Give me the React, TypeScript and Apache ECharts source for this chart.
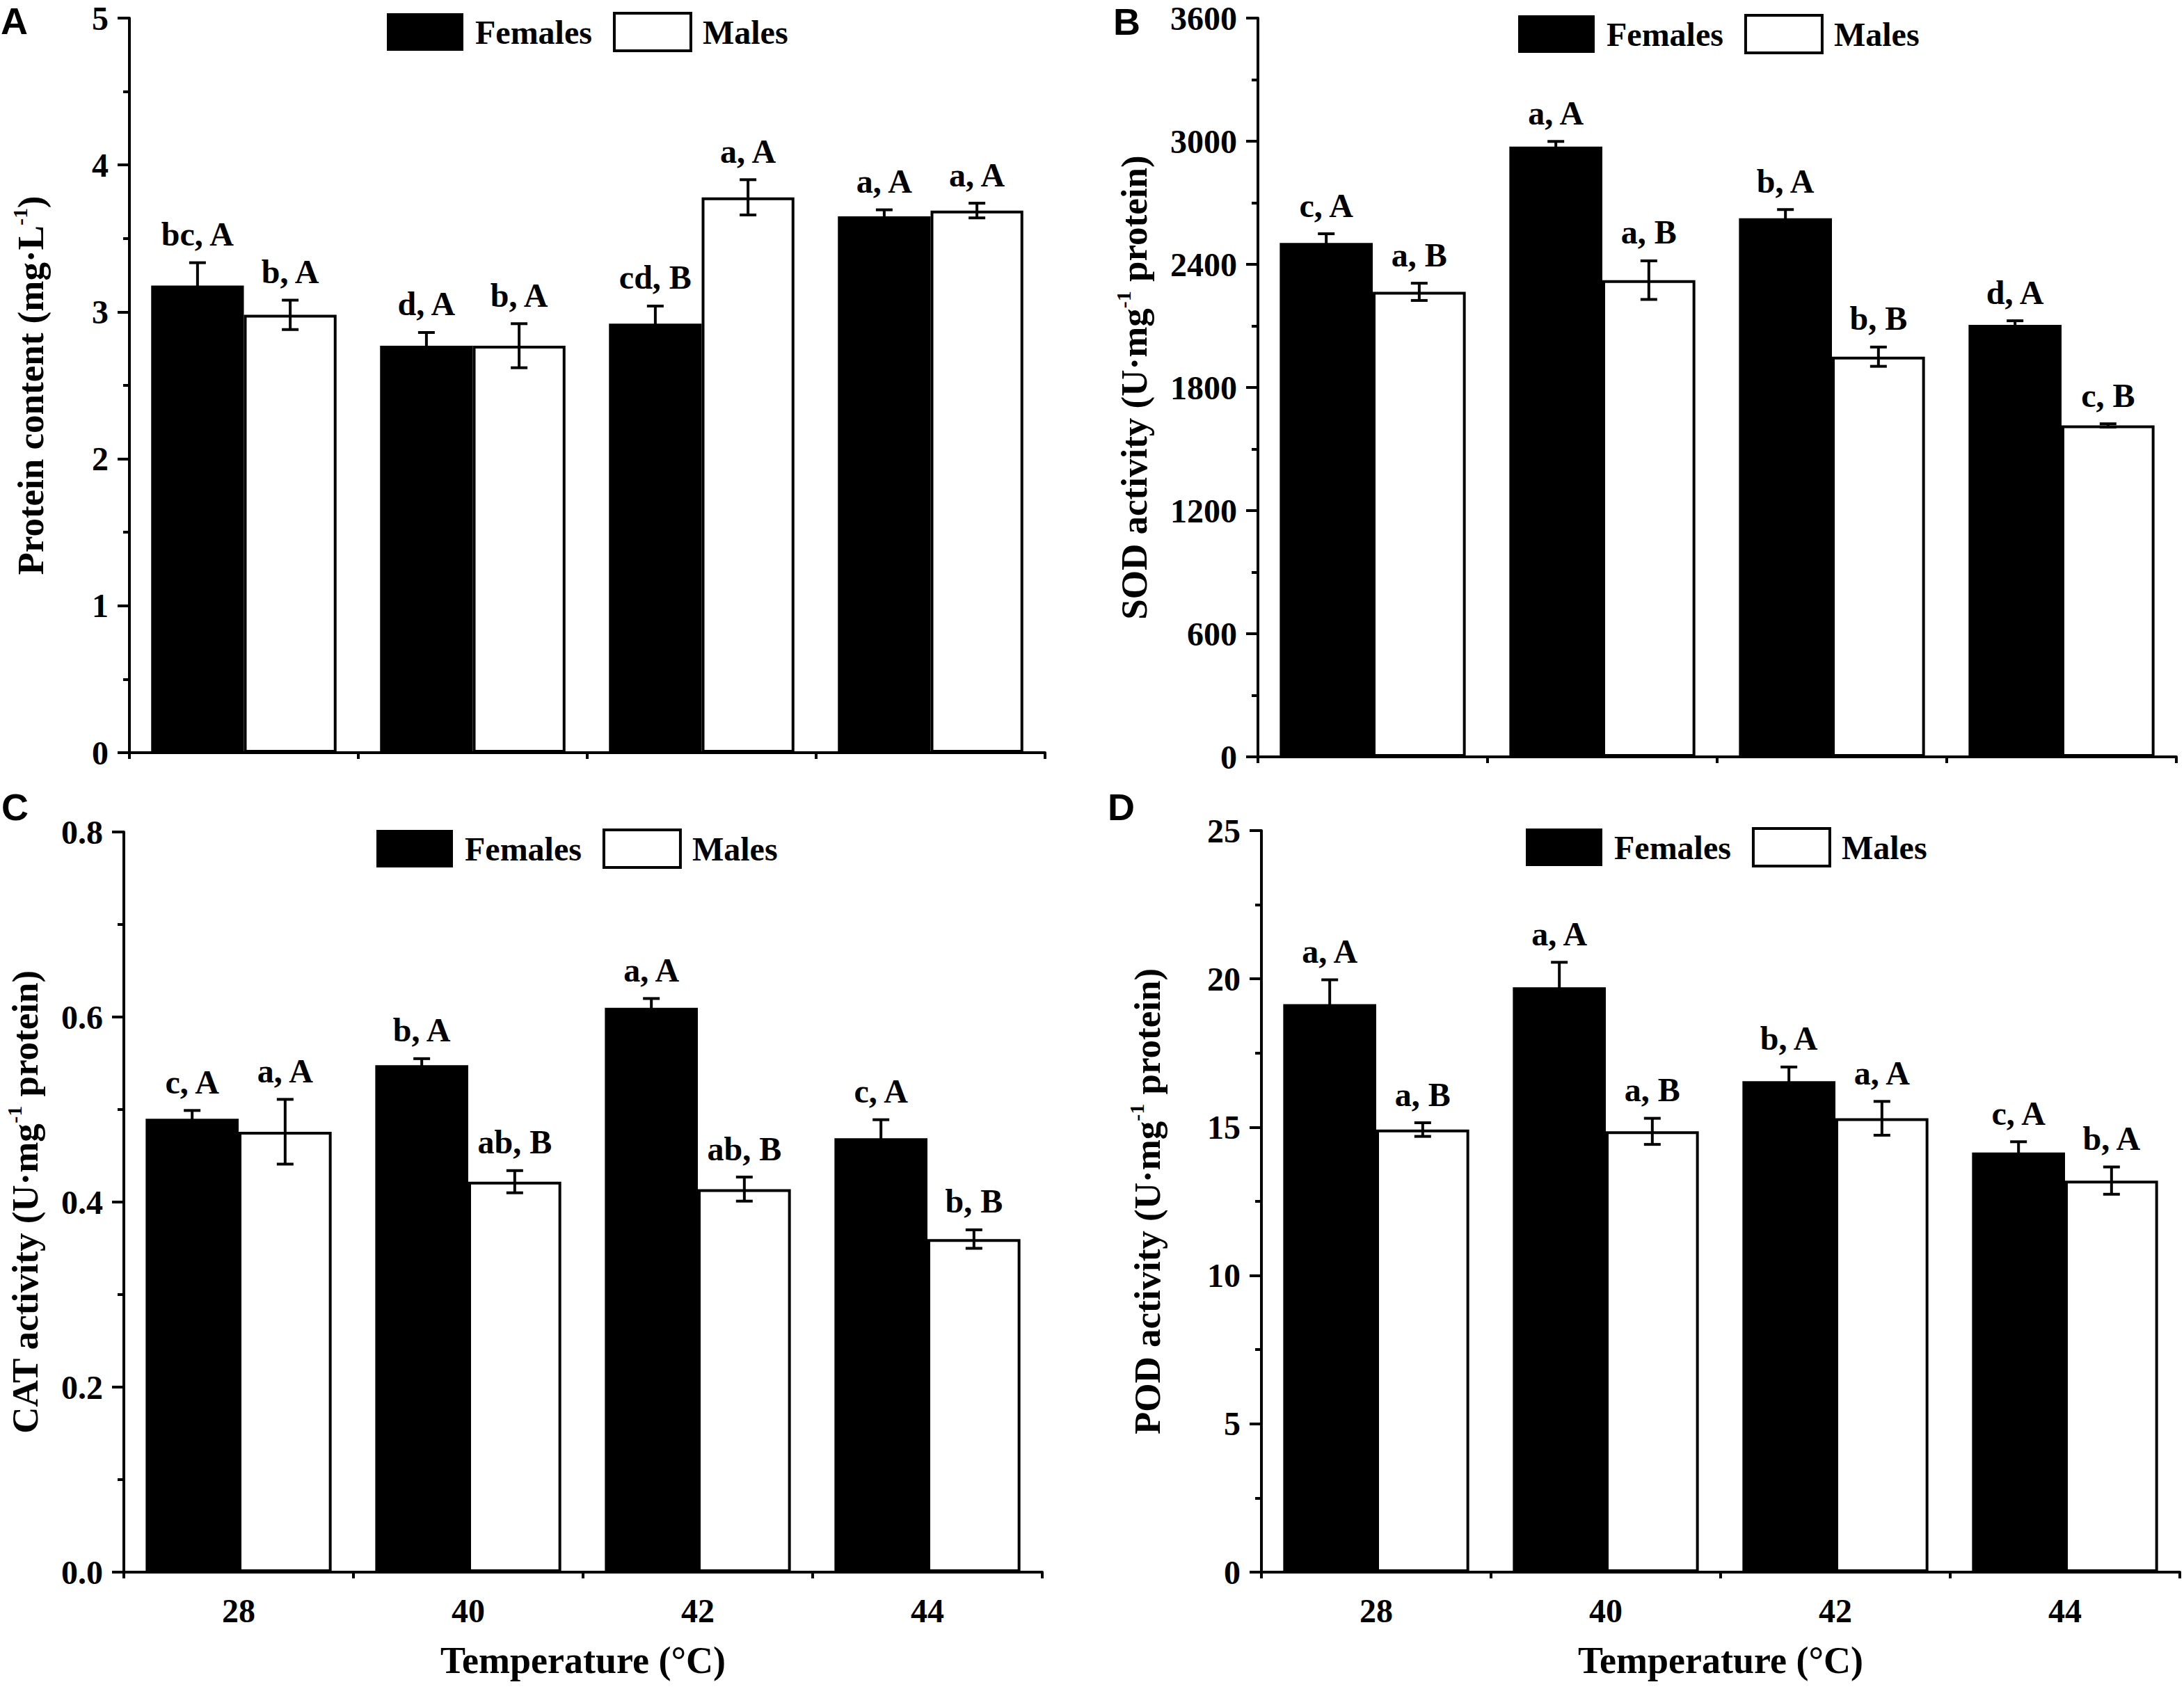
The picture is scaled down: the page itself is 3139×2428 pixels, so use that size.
import React, { useEffect, useRef } from 'react';
import * as echarts from 'echarts';

const FONT = 'Liberation Serif';

const temperatures = ['28', '40', '42', '44'];
const legendNames = ['Females', 'Males'];

// Panel A: protein content
const proteinFemales = [3.18, 2.77, 2.92, 3.65];
const proteinFemalesErr = [0.155, 0.09, 0.12, 0.045];
const proteinMales = [2.98, 2.77, 3.78, 3.69];
const proteinMalesErr = [0.1, 0.15, 0.12, 0.05];
const proteinFemalesLabels = ['bc, A', 'd, A', 'cd, B', 'a, A'];
const proteinMalesLabels = ['b, A', 'b, A', 'a, A', 'a, A'];

// Panel B: SOD activity
const sodFemales = [2504, 2974, 2625, 2105];
const sodFemalesErr = [45, 25, 42, 20];
const sodMales = [2266, 2323, 1950, 1615];
const sodMalesErr = [42, 94, 47, 8];
const sodFemalesLabels = ['c, A', 'a, A', 'b, A', 'd, A'];
const sodMalesLabels = ['a, B', 'a, B', 'b, B', 'c, B'];

// Panel C: CAT activity
const catFemales = [0.49, 0.548, 0.61, 0.469];
const catFemalesErr = [0.009, 0.007, 0.01, 0.02];
const catMales = [0.476, 0.422, 0.414, 0.36];
const catMalesErr = [0.035, 0.012, 0.013, 0.01];
const catFemalesLabels = ['c, A', 'b, A', 'a, A', 'c, A'];
const catMalesLabels = ['a, A', 'ab, B', 'ab, B', 'b, B'];

// Panel D: POD activity
const podFemales = [19.15, 19.72, 16.55, 14.15];
const podFemalesErr = [0.82, 0.84, 0.48, 0.36];
const podMales = [14.92, 14.86, 15.3, 13.2];
const podMalesErr = [0.23, 0.44, 0.57, 0.46];
const podFemalesLabels = ['a, A', 'a, A', 'b, A', 'c, A'];
const podMalesLabels = ['a, B', 'a, B', 'a, A', 'b, A'];

const panels = [
  {
    letter: 'A', letterPos: [1, 3],
    grid: { left: 186, top: 26, width: 1316, height: 1056 },
    yMax: 5, yInterval: 1, decimals: 0,
    yTitle: '{a|Protein content (mg·L}{s|-1}{a|)}', nameGap: 111,
    showX: false, legendPos: [556, 17],
    f: proteinFemales, fe: proteinFemalesErr, fl: proteinFemalesLabels,
    m: proteinMales, me: proteinMalesErr, ml: proteinMalesLabels,
  },
  {
    letter: 'B', letterPos: [1600, 4],
    grid: { left: 1808, top: 26, width: 1320, height: 1062 },
    yMax: 3600, yInterval: 600, decimals: 0,
    yTitle: '{a|SOD activity (U·mg}{s|-1}{a| protein)}', nameGap: 147,
    showX: false, legendPos: [2182, 20],
    f: sodFemales, fe: sodFemalesErr, fl: sodFemalesLabels,
    m: sodMales, me: sodMalesErr, ml: sodMalesLabels,
  },
  {
    letter: 'C', letterPos: [2, 1133],
    grid: { left: 178, top: 1196, width: 1320, height: 1064 },
    yMax: 0.8, yInterval: 0.2, decimals: 1,
    yTitle: '{a|CAT activity (U·mg}{s|-1}{a| protein)}', nameGap: 111,
    showX: true, legendPos: [541, 1191],
    f: catFemales, fe: catFemalesErr, fl: catFemalesLabels,
    m: catMales, me: catMalesErr, ml: catMalesLabels,
  },
  {
    letter: 'D', letterPos: [1592, 1133],
    grid: { left: 1813, top: 1194, width: 1320, height: 1066 },
    yMax: 25, yInterval: 5, decimals: 0,
    yTitle: '{a|POD activity (U·mg}{s|-1}{a| protein)}', nameGap: 133,
    showX: true, legendPos: [2193, 1189],
    f: podFemales, fe: podFemalesErr, fl: podFemalesLabels,
    m: podMales, me: podMalesErr, ml: podMalesLabels,
  },
];

const CAT_GAP = 0.19;
const textBase = { fontFamily: FONT, fontWeight: 'bold' as const, color: '#000' };
const lineBlack = { color: '#000', width: 4 };

function errSeries(gi: number, g: number, means: number[], errs: number[], labels: string[]) {
  return {
    type: 'custom',
    xAxisIndex: gi * 2,
    yAxisIndex: gi,
    z: 10,
    silent: true,
    data: means.map((v, i) => [i, v, errs[i]]),
    renderItem: (params: any, api: any) => {
      const i = api.value(0);
      const v = api.value(1);
      const e = api.value(2);
      const band = api.size([1, 0])[0];
      const barW = (band * (1 - CAT_GAP)) / 2;
      const c = api.coord([i, v]);
      const x = c[0] + (g === 0 ? -barW / 2 : barW / 2);
      const yT = api.coord([i, v + e])[1];
      const yB = api.coord([i, v - e])[1];
      const ls = { stroke: '#000', lineWidth: 4 };
      return {
        type: 'group',
        children: [
          { type: 'line', shape: { x1: x, y1: yB, x2: x, y2: yT }, style: ls },
          { type: 'line', shape: { x1: x - 12, y1: yT, x2: x + 12, y2: yT }, style: ls },
          { type: 'line', shape: { x1: x - 12, y1: yB, x2: x + 12, y2: yB }, style: ls },
          {
            type: 'text',
            style: {
              text: labels[params.dataIndex],
              x,
              y: yT - 17,
              align: 'center',
              verticalAlign: 'bottom',
              fontSize: 48,
              fontFamily: FONT,
              fontWeight: 'bold',
              fill: '#000',
            },
          },
        ],
      };
    },
  };
}

function buildOption() {
  const grid: any[] = [];
  const xAxis: any[] = [];
  const yAxis: any[] = [];
  const series: any[] = [];
  const legend: any[] = [];
  const graphic: any[] = [];

  panels.forEach((p, gi) => {
    grid.push({ ...p.grid, containLabel: false });
    xAxis.push({
      type: 'category',
      gridIndex: gi,
      data: temperatures,
      position: 'bottom',
      axisLine: { lineStyle: lineBlack },
      axisTick: { alignWithLabel: true, length: 17, lineStyle: lineBlack },
      axisLabel: { show: p.showX, margin: 31, fontSize: 48, ...textBase },
      splitLine: { show: false },
      name: p.showX ? 'Temperature (°C)' : '',
      nameLocation: 'middle',
      nameGap: 100,
      nameTextStyle: { fontSize: 54, ...textBase },
    });
    xAxis.push({
      type: 'category',
      gridIndex: gi,
      data: temperatures,
      position: 'bottom',
      axisLine: { show: false },
      axisTick: { show: true, interval: 0, length: 9, lineStyle: lineBlack },
      axisLabel: { show: false },
      splitLine: { show: false },
    });
    yAxis.push({
      type: 'value',
      gridIndex: gi,
      min: 0,
      max: p.yMax,
      interval: p.yInterval,
      axisLine: { show: true, lineStyle: lineBlack },
      axisTick: { show: true, length: 17, lineStyle: lineBlack },
      minorTick: { show: true, splitNumber: 2, length: 9, lineStyle: lineBlack },
      splitLine: { show: false },
      minorSplitLine: { show: false },
      axisLabel: {
        margin: 30,
        fontSize: 48,
        lineHeight: 34,
        ...textBase,
        formatter: (v: number) => v.toFixed(p.decimals),
      },
      name: p.yTitle,
      nameLocation: 'middle',
      nameRotate: 90,
      nameGap: p.nameGap,
      nameTextStyle: {
        fontSize: 53,
        ...textBase,
        rich: {
          a: { fontSize: 53, lineHeight: 62, ...textBase },
          s: { fontSize: 30, lineHeight: 30, verticalAlign: 'top', ...textBase },
        },
      },
    });
    series.push({
      name: 'Females',
      type: 'bar',
      xAxisIndex: gi * 2,
      yAxisIndex: gi,
      data: p.f,
      barGap: '0%',
      barCategoryGap: CAT_GAP * 100 + '%',
      itemStyle: { color: '#000' },
      silent: true,
    });
    series.push({
      name: 'Males',
      type: 'bar',
      xAxisIndex: gi * 2,
      yAxisIndex: gi,
      data: p.m,
      barGap: '0%',
      barCategoryGap: CAT_GAP * 100 + '%',
      itemStyle: { color: '#fff', borderColor: '#000', borderWidth: 4 },
      silent: true,
    });
    series.push(errSeries(gi, 0, p.f, p.fe, p.fl));
    series.push(errSeries(gi, 1, p.m, p.me, p.ml));
    legend.push({
      left: p.legendPos[0],
      top: p.legendPos[1],
      orient: 'horizontal',
      padding: 0,
      itemGap: 30,
      itemWidth: 110,
      itemHeight: 54,
      selectedMode: false,
      icon: 'rect',
      textStyle: { fontSize: 48, ...textBase, padding: [0, 0, 0, 12] },
      data: [
        { name: legendNames[0], icon: 'rect', itemStyle: { color: '#000', borderWidth: 0 } },
        { name: legendNames[1], icon: 'rect', itemStyle: { color: '#fff', borderColor: '#000', borderWidth: 4 } },
      ],
    });
    graphic.push({
      type: 'text',
      left: p.letterPos[0],
      top: p.letterPos[1],
      style: {
        text: p.letter,
        fontSize: 54,
        lineHeight: 40,
        fontFamily: 'Liberation Sans',
        fontWeight: 'bold',
        fill: '#000',
      },
    });
  });

  return {
    animation: false,
    backgroundColor: '#fff',
    grid,
    xAxis,
    yAxis,
    series,
    legend,
    graphic,
  };
}

export default function App() {
  const ref = useRef<HTMLDivElement>(null);
  useEffect(() => {
    if (!ref.current) return;
    const chart = echarts.init(ref.current, null, { renderer: 'svg' });
    chart.setOption(buildOption() as any);
    return () => chart.dispose();
  }, []);
  return (
    <div
      ref={ref}
      style={{ position: 'absolute', left: 0, top: 0, width: 3139, height: 2428, background: '#fff' }}
    />
  );
}
